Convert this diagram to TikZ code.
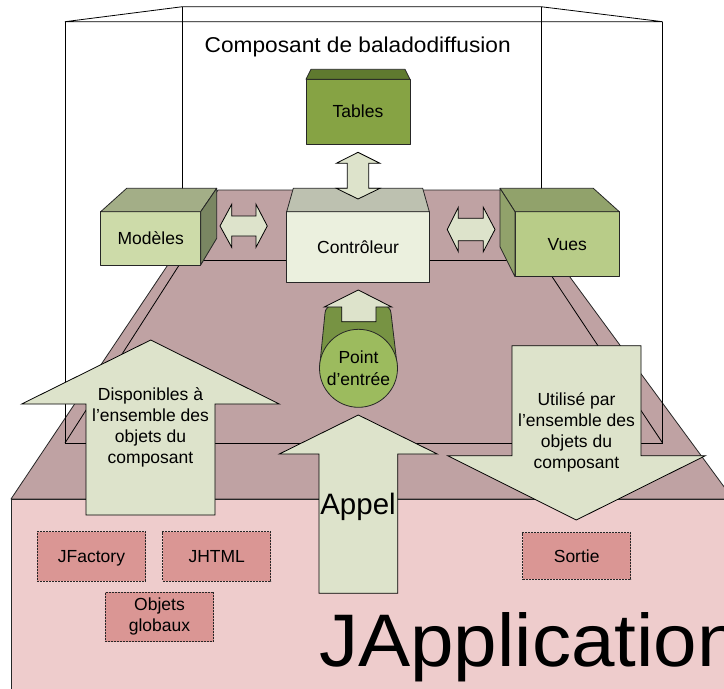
\documentclass[tikz,border=0pt]{standalone}
\usepackage{fontspec}
\setmainfont{Liberation Sans}
\definecolor{slabtop}{HTML}{BFA2A3}
\definecolor{slabfront}{HTML}{EECCCC}
\definecolor{dashfill}{HTML}{DA9694}
\definecolor{arrowfill}{HTML}{DDE3CB}
\definecolor{tabfront}{HTML}{86A344}
\definecolor{tabtop}{HTML}{5F7A2F}
\definecolor{modfront}{HTML}{CDDBA9}
\definecolor{modtop}{HTML}{A3AE87}
\definecolor{modside}{HTML}{7A8662}
\definecolor{ctlfront}{HTML}{EBF0DE}
\definecolor{ctltop}{HTML}{BDC1B0}
\definecolor{vuefront}{HTML}{B8CC88}
\definecolor{vuetop}{HTML}{91A26B}
\definecolor{cylfront}{HTML}{9CBB5E}
\definecolor{cylback}{HTML}{779343}
\definecolor{edge}{HTML}{262626}
\tikzset{
  face/.style={draw=edge, line width=0.8pt, line join=round},
  wire/.style={draw=black, line width=0.8pt},
  blockarrow/.style={draw=black, fill=arrowfill, line width=0.8pt, line join=miter},
  lbl/.style={font=\fontsize{17.5}{21.2}\selectfont, align=center, inner sep=0pt},
  boxface/.style={face, inner sep=0pt, outer sep=0pt, font=\fontsize{17.5}{21.2}\selectfont, text height=12.6pt, text depth=0pt},
  dashbox/.style={draw=edge, line width=0.8pt, dash pattern=on 2pt off 1pt, fill=dashfill, inner sep=0pt, outer sep=0pt, font=\fontsize{17.5}{21.2}\selectfont, align=center}
}
\begin{document}
\begin{tikzpicture}[x=1pt,y=-1pt]
\useasboundingbox (0,0) rectangle (724,689);
\fill[white] (0,0) rectangle (724,689);
\clip (0,0) rectangle (724,689);

% JApplication slab
\path[face, fill=slabtop] (11,499) -- (218,190) -- (506,190) -- (733,499) -- cycle;
\path[face, fill=slabfront] (11,499) rectangle (760,720);

% wireframe component box
\draw[wire] (65,21.7) -- (182.4,6.7) -- (541,6.7) -- (662.6,21.7) -- cycle;
\draw[wire] (65,21.7) -- (65,443) -- (662.6,443) -- (662.6,21.7);
\draw[wire] (182.4,6.7) -- (182.4,260) -- (541,260) -- (541,6.7);
\draw[wire] (65,443) -- (182.4,260);
\draw[wire] (662.6,443) -- (541,260);

\node[anchor=base, font=\fontsize{21.5}{25}\selectfont, inner sep=0pt] (title) at (357.7,52.3) {\scalebox{1.055}[1]{Composant de baladodiffusion}};

% Modeles
\node[boxface, fill=modfront, minimum width=100, minimum height=53.3] (mod) at (150.7,238.35) {Modèles};
\path[face, fill=modtop] (mod.north west) -- (126.7,188.3) -- (216.7,188.3) -- (mod.north east) -- cycle;
\path[face, fill=modside] (mod.north east) -- (216.7,188.3) -- (216.7,238.3) -- (mod.south east) -- cycle;

% Controleur
\node[boxface, fill=ctlfront, minimum width=142.6, minimum height=71] (ctl) at (358,247.2) {Contrôleur};
\path[face, fill=ctltop] (ctl.north west) -- (293.3,188.3) -- (422.7,188.3) -- (ctl.north east) -- cycle;

% Vues
\node[boxface, fill=vuefront, minimum width=104.3, minimum height=65] (vue) at (567.15,244.2) {Vues};
\path[face, fill=vuetop] (vue.north west) -- (500,188.3) -- (593.3,188.3) -- (vue.north east) -- cycle;
\path[face, fill=vuetop] (500,188.3) -- (vue.north west) -- (vue.south west) -- (500,246.7) -- cycle;

% Tables
\node[boxface, fill=tabfront, minimum width=104, minimum height=64.7] (tab) at (358,111.65) {Tables};
\path[face, fill=tabtop] (tab.north west) -- (311,69.3) -- (405,69.3) -- (tab.north east) -- cycle;

% double arrows
\path[blockarrow] (347.3,163.3) -- (336.3,163.3) -- (358,152.3) -- (380,163.3) -- (368.7,163.3) -- (368.7,188.3) -- (380,188.3) -- (358,199) -- (336.3,188.3) -- (347.3,188.3) -- cycle;
\path[blockarrow] (220,226) -- (231.7,204.3) -- (231.7,216) -- (256,216) -- (256,204.3) -- (267.3,226) -- (256,247.3) -- (256,236) -- (231.7,236) -- (231.7,247.3) -- cycle;
\path[blockarrow] (447.3,229.5) -- (458.3,207.3) -- (458.3,218.3) -- (483.3,218.3) -- (483.3,207.3) -- (495,229.5) -- (483.3,251.7) -- (483.3,240.7) -- (458.3,240.7) -- (458.3,251.7) -- cycle;

% Point d'entree cylinder
\path[face, fill=cylback] (319.5,368.3) -- (325,313) arc[start angle=180, end angle=360, x radius=33, y radius=14] -- (397.5,368.3) -- cycle;
\node[circle, face, fill=cylfront, minimum size=78, inner sep=0pt, lbl] (pe) at (358.5,368.3) {Point\\d’entrée};
\path[blockarrow] (341.7,321.7) -- (341.7,307) -- (324.3,307) -- (358.3,290) -- (391.7,307) -- (376,307) -- (376,321.7) -- cycle;

% large arrows
\path[blockarrow] (86,515) -- (86,404) -- (21.7,404) -- (150.7,340) -- (279.3,404) -- (215,404) -- (215,515) -- cycle;
\node[lbl] (dispo) at (150.5,427.5) {Disponibles à\\l’ensemble des\\objets du\\composant};
\path[blockarrow] (512,345.7) -- (641,345.7) -- (641,455.7) -- (705.3,455.7) -- (576.3,520) -- (447.7,455.7) -- (512,455.7) -- cycle;
\node[lbl] (util) at (576.5,432.2) {Utilisé par\\l’ensemble des\\objets du\\composant};
\path[blockarrow] (319,593.3) -- (319,454) -- (279.3,454) -- (358.3,415) -- (437.3,454) -- (397.7,454) -- (397.7,593.3) -- cycle;
\node[anchor=base, font=\fontsize{29.5}{34}\selectfont, inner sep=0pt] (appel) at (358,514) {Appel};

% dashed boxes
\node[dashbox, minimum width=108.4, minimum height=49.3, text height=12.6pt, text depth=0pt] (jf) at (91.5,556.35) {JFactory};
\node[dashbox, minimum width=108, minimum height=49.3, text height=12.6pt, text depth=0pt] (jh) at (216.7,556.35) {JHTML};
\node[dashbox, minimum width=108.4, minimum height=49.7] (og) at (159.5,616.85) {Objets\\globaux};
\node[dashbox, minimum width=108, minimum height=46.6, text height=12.6pt, text depth=0pt] (so) at (576.7,556) {Sortie};

\node[anchor=base west, font=\fontsize{74.5}{80}\selectfont, inner sep=0pt] (japp) at (319,666) {\scalebox{1.05}[1]{JApplication}};
\end{tikzpicture}
\end{document}
